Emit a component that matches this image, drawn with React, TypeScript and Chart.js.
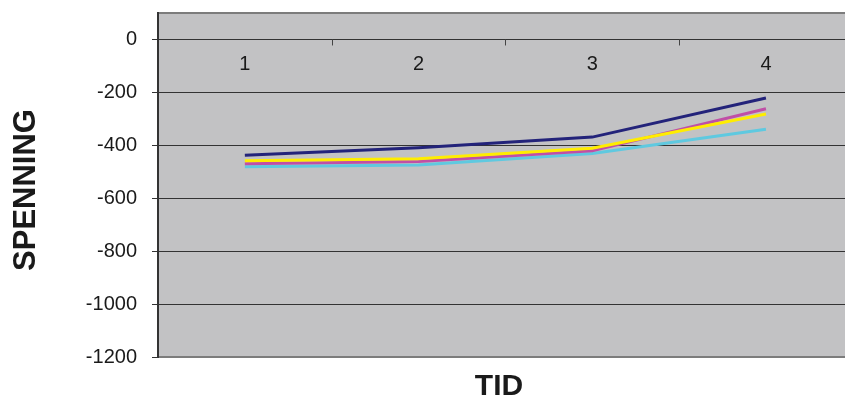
import React, { useEffect, useRef } from "react";
import { Chart, registerables } from "chart.js";

Chart.register(...registerables);

const categories = ["1", "2", "3", "4"];
const seriesNavy = [-438, -409, -369, -221];
const seriesMagenta = [-470, -461, -421, -262];
const seriesYellow = [-458, -451, -411, -282];
const seriesCyan = [-481, -474, -431, -339];
const yTickValues = [0, -200, -400, -600, -800, -1000, -1200];
const yTitle = "SPENNING";
const xTitle = "TID";

const FONT = "'Liberation Sans', Arial, Helvetica, sans-serif";

export default function App() {
  const ref = useRef<HTMLCanvasElement | null>(null);

  useEffect(() => {
    if (!ref.current) return;
    const toPts = (arr: number[]) => arr.map((v, i) => ({ x: i + 1, y: v }));

    const decor = {
      id: "decor",
      beforeDraw(chart: any) {
        const { ctx, chartArea } = chart;
        ctx.save();
        ctx.fillStyle = "#c2c2c4";
        ctx.fillRect(chartArea.left, chartArea.top, chartArea.right - chartArea.left, chartArea.bottom - chartArea.top);
        ctx.restore();
      },
      beforeDatasetsDraw(chart: any) {
        const { ctx, scales } = chart;
        const x = scales.x;
        const y = scales.y;
        const y0 = y.getPixelForValue(0);
        ctx.save();
        ctx.strokeStyle = "#444";
        ctx.lineWidth = 1;
        for (let i = 1; i < categories.length; i++) {
          const px = Math.round(x.getPixelForValue(i + 0.5)) + 0.5;
          ctx.beginPath();
          ctx.moveTo(px, y0);
          ctx.lineTo(px, y0 + 6);
          ctx.stroke();
        }
        ctx.fillStyle = "#1a1a1a";
        ctx.font = `20px ${FONT}`;
        ctx.textAlign = "center";
        ctx.textBaseline = "middle";
        categories.forEach((c, i) => {
          ctx.fillText(c, x.getPixelForValue(i + 1), y0 + 25);
        });
        ctx.restore();
      },
      afterDraw(chart: any) {
        const { ctx, chartArea } = chart;
        ctx.save();
        ctx.strokeStyle = "#7c7c7c";
        ctx.lineWidth = 2;
        ctx.beginPath();
        ctx.moveTo(chartArea.left, chartArea.top);
        ctx.lineTo(chartArea.right, chartArea.top);
        ctx.stroke();
        ctx.beginPath();
        ctx.moveTo(chartArea.left, chartArea.bottom);
        ctx.lineTo(chartArea.right, chartArea.bottom);
        ctx.stroke();
        ctx.strokeStyle = "#333";
        ctx.beginPath();
        ctx.moveTo(chartArea.left, chartArea.top - 1);
        ctx.lineTo(chartArea.left, chartArea.bottom + 1);
        ctx.stroke();
        ctx.fillStyle = "#1a1a1a";
        ctx.font = `bold 30px ${FONT}`;
        ctx.textAlign = "center";
        ctx.textBaseline = "middle";
        ctx.fillText(xTitle, 499, 387);
        ctx.save();
        ctx.translate(26, 190);
        ctx.rotate(-Math.PI / 2);
        ctx.font = `bold 31px ${FONT}`;
        ctx.fillText(yTitle, 0, 0);
        ctx.restore();
        ctx.restore();
      },
    };

    const chart = new Chart(ref.current, {
      type: "line",
      data: {
        datasets: [
          { label: "1", data: toPts(seriesNavy), borderColor: "#23237a" },
          { label: "3", data: toPts(seriesYellow), borderColor: "#ffed00" },
          { label: "2", data: toPts(seriesMagenta), borderColor: "#c04fa6" },
          { label: "4", data: toPts(seriesCyan), borderColor: "#5fc9e0" },
        ].map((d) => ({ ...d, borderWidth: 3, pointRadius: 0, tension: 0, fill: false })),
      },
      options: {
        responsive: false,
        animation: false,
        layout: { padding: { left: 0, top: 13, right: 0, bottom: 44 } },
        plugins: { legend: { display: false }, tooltip: { enabled: false }, title: { display: false } },
        scales: {
          x: {
            type: "linear",
            min: 0.5,
            max: 0.5 + (845 - 158) / 173.7,
            display: false,
          },
          y: {
            type: "linear",
            min: -1200,
            max: 100,
            afterBuildTicks: (scale: any) => {
              scale.ticks = yTickValues.map((v) => ({ value: v }));
            },
            afterFit: (scale: any) => {
              scale.width = 158;
              scale.paddingTop = 0;
              scale.paddingBottom = 0;
            },
            grid: { color: "#333", lineWidth: 1, tickLength: 6, drawTicks: true },
            border: { display: true, color: "#333", width: 2 },
            ticks: {
              padding: 15,
              color: "#1a1a1a",
              font: { size: 20, family: FONT },
              callback: (v: any) => String(v),
            },
          },
        },
      },
      plugins: [decor],
    });
    return () => chart.destroy();
  }, []);

  return (
    <div style={{ position: "fixed", left: 0, top: 0, width: 845, height: 401, background: "#fff", overflow: "hidden" }}>
      <canvas ref={ref} width={845} height={401} style={{ width: 845, height: 401, display: "block" }} />
    </div>
  );
}
